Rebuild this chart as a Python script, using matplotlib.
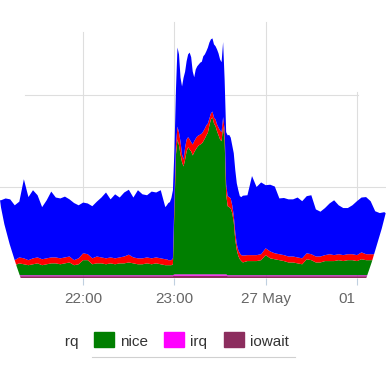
import matplotlib
matplotlib.use('Agg')
import matplotlib.pyplot as plt
import matplotlib.dates as mdates
from matplotlib.path import Path
from matplotlib.patches import Rectangle
from matplotlib.lines import Line2D
from matplotlib.transforms import Bbox, TransformedBbox
import pandas as pd

plt.rcParams['font.family'] = ['Liberation Sans', 'DejaVu Sans']

# Zeitpunkte in Minuten nach 21:00 (26. Mai)
minutes = [3, 6, 9, 12, 15, 18, 21, 24, 27, 30,
           33, 36, 39, 42, 45, 48, 51, 54, 57, 60,
           63, 66, 69, 72, 75, 78, 81, 84, 87, 90,
           93, 96, 99, 102, 105, 108, 111, 114,
           115, 116, 117, 118, 119, 120, 121, 122, 123, 124,
           125, 126, 127, 128, 129, 130, 131, 132, 133, 134,
           135, 136, 137, 138, 139, 140, 141, 142, 143, 144,
           145, 146, 147, 148, 149, 150, 151, 152, 153, 154,
           155, 156, 157, 158, 159, 160, 161, 162, 163, 164, 165,
           168, 171, 174, 177, 180, 183, 186, 189, 192, 195,
           198, 201, 204, 207, 210, 213, 216, 219, 222, 225,
           228, 231, 234, 237, 240, 243, 246, 249, 252, 255,
           258, 261]

# CPU-Anteile (Prozent), gestapelt
user = [12.7, 12.7, 13.3, 13.3, 12.0, 12.2, 17.3, 13.8, 14.9, 13.6,
        11.4, 12.7, 14.4, 13.1, 13.1, 13.3, 12.5, 12.5, 11.6, 11.1,
        11.1, 11.4, 12.0, 13.1, 14.4, 12.7, 14.0, 13.1, 14.0, 14.2,
        13.1, 14.9, 14.0, 13.6, 14.6, 14.2, 14.9, 11.4,
        11.8, 12.5, 12.7, 13.6, 14.9, 10.9, 12.0, 17.3, 17.1, 14.0,
        14.9, 17.9, 16.6, 17.1, 18.1, 19.0, 18.6, 16.0, 14.0, 15.1,
        15.3, 15.5, 15.7, 15.7, 16.4, 16.2, 16.2, 16.6, 16.6, 16.2,
        16.0, 16.0, 16.0, 16.4, 16.2, 15.5, 15.3, 16.4, 10.9, 11.4,
        13.3, 13.6, 13.3, 13.1, 13.6, 13.6, 13.3, 13.1, 12.5, 12.7, 13.1,
        13.1, 17.3, 14.9, 15.7, 13.8, 14.6, 14.6, 12.2, 12.5, 12.5,
        12.5, 13.1, 12.5, 12.5, 12.9, 10.3, 9.8, 10.3, 11.1, 12.0,
        10.7, 10.3, 10.1, 10.7, 11.8, 12.0, 12.5, 11.6, 9.4, 9.0,
        9.2, 8.5]
softirq = [1.3, 1.3, 1.3, 1.1, 1.1, 1.3, 1.3, 1.1, 1.3, 1.3,
           1.3, 1.3, 1.3, 1.3, 1.3, 1.3, 1.3, 1.1, 1.3, 1.5,
           1.3, 1.3, 1.5, 1.3, 1.3, 1.3, 1.3, 1.3, 1.5, 1.7,
           1.3, 1.3, 1.3, 1.3, 1.3, 1.3, 1.3, 1.3,
           1.3, 1.1, 1.1, 1.1, 1.3, 2.2, 2.2, 2.8, 2.8, 2.8,
           1.7, 1.5, 2.6, 2.6, 2.2, 2.2, 2.0, 2.4, 2.4, 2.4,
           2.4, 2.2, 2.2, 2.2, 2.2, 2.2, 2.2, 2.0, 1.5, 1.3,
           1.3, 1.3, 1.5, 1.5, 1.7, 2.0, 2.0, 2.0, 2.4, 2.2,
           2.2, 2.2, 2.2, 1.7, 1.5, 1.7, 1.3, 1.3, 1.3, 1.3, 1.5,
           1.3, 1.3, 1.3, 1.3, 1.5, 1.5, 1.3, 1.3, 1.3, 1.3,
           1.3, 1.3, 1.3, 1.3, 1.3, 1.3, 1.3, 1.3, 1.5, 1.3,
           1.3, 1.3, 1.3, 1.3, 1.3, 1.5, 1.3, 1.3, 1.3, 1.3,
           1.3, 1.3]
nice = [2.4, 2.4, 2.2, 2.2, 2.2, 2.6, 2.4, 2.2, 2.4, 2.6,
        2.2, 2.4, 2.6, 2.6, 2.4, 2.6, 2.8, 2.2, 2.4, 3.3,
        3.3, 2.4, 2.6, 2.6, 2.4, 2.6, 2.4, 2.6, 2.6, 2.8,
        2.6, 2.4, 2.4, 2.6, 2.4, 2.6, 2.4, 2.2,
        2.2, 2.2, 2.2, 2.2, 2.4, 14.2, 26.2, 29.5, 28.2, 26.2,
        24.5, 23.6, 25.1, 26.9, 27.8, 27.3, 26.9, 26.0, 26.7, 27.3,
        27.8, 28.2, 28.4, 28.6, 29.1, 29.7, 30.4, 31.0, 32.6, 33.9,
        34.3, 33.0, 32.4, 31.3, 30.4, 29.5, 29.1, 32.4, 29.3, 17.5,
        15.1, 14.9, 14.6, 13.6, 11.6, 7.7, 5.5, 4.2, 3.5, 3.1, 2.8,
        3.1, 3.1, 3.1, 3.3, 4.4, 3.7, 3.5, 3.3, 3.1, 2.8,
        2.8, 2.6, 2.4, 3.5, 3.3, 2.8, 2.8, 3.1, 3.1, 3.1,
        3.3, 3.1, 3.3, 3.3, 3.1, 3.5, 3.3, 3.3, 3.3, 3.3,
        3.3, 3.3]
irq = [0.2, 0.2, 0.2, 0.2, 0.2, 0.2, 0.2, 0.2, 0.2, 0.2,
       0.2, 0.2, 0.2, 0.2, 0.2, 0.2, 0.2, 0.2, 0.2, 0.2,
       0.2, 0.2, 0.2, 0.2, 0.2, 0.2, 0.2, 0.2, 0.2, 0.2,
       0.2, 0.2, 0.2, 0.2, 0.2, 0.2, 0.2, 0.2,
       0.2, 0.2, 0.2, 0.2, 0.2, 0.3, 0.3, 0.3, 0.3, 0.3,
       0.3, 0.3, 0.3, 0.3, 0.3, 0.3, 0.3, 0.3, 0.3, 0.3,
       0.3, 0.3, 0.3, 0.3, 0.3, 0.3, 0.3, 0.3, 0.3, 0.3,
       0.3, 0.3, 0.3, 0.3, 0.3, 0.3, 0.3, 0.3, 0.3, 0.3,
       0.2, 0.2, 0.2, 0.2, 0.2, 0.2, 0.2, 0.2, 0.2, 0.2, 0.2,
       0.2, 0.2, 0.2, 0.2, 0.2, 0.2, 0.2, 0.2, 0.2, 0.2,
       0.2, 0.2, 0.2, 0.2, 0.2, 0.2, 0.2, 0.2, 0.2, 0.2,
       0.2, 0.2, 0.2, 0.2, 0.2, 0.2, 0.2, 0.2, 0.2, 0.2,
       0.2, 0.2]
iowait = [0.4, 0.4, 0.4, 0.4, 0.4, 0.4, 0.4, 0.4, 0.4, 0.4,
          0.4, 0.4, 0.4, 0.4, 0.4, 0.4, 0.4, 0.4, 0.4, 0.4,
          0.4, 0.4, 0.4, 0.4, 0.4, 0.4, 0.4, 0.4, 0.4, 0.4,
          0.4, 0.4, 0.4, 0.4, 0.4, 0.4, 0.4, 0.4,
          0.4, 0.4, 0.4, 0.4, 0.4, 0.5, 0.5, 0.5, 0.5, 0.5,
          0.5, 0.5, 0.5, 0.5, 0.5, 0.5, 0.5, 0.5, 0.5, 0.5,
          0.5, 0.5, 0.5, 0.5, 0.5, 0.5, 0.5, 0.5, 0.5, 0.5,
          0.5, 0.5, 0.5, 0.5, 0.5, 0.5, 0.5, 0.5, 0.5, 0.5,
          0.4, 0.4, 0.4, 0.4, 0.4, 0.4, 0.4, 0.4, 0.4, 0.4, 0.4,
          0.4, 0.4, 0.4, 0.4, 0.4, 0.4, 0.4, 0.4, 0.4, 0.4,
          0.4, 0.4, 0.4, 0.4, 0.4, 0.4, 0.4, 0.4, 0.4, 0.4,
          0.4, 0.4, 0.4, 0.4, 0.4, 0.4, 0.4, 0.4, 0.4, 0.4,
          0.4, 0.4]

tick_labels = ['22:00', '23:00', '27 May', '01:00']
legend_labels = ['softirq', 'nice', 'irq', 'iowait']

farben = {'user': '#0000ff', 'softirq': '#ff0000', 'nice': '#007f00',
          'irq': '#ff00ff', 'iowait': '#8c2d5e'}

W = H = 386


def px(x, y):
    # Pixel (von oben links) -> Figurkoordinaten
    return (x / W, 1 - y / H)


start = pd.Timestamp('2015-05-26 21:00')
zeiten = start + pd.to_timedelta(minutes, unit='min')
xs = mdates.date2num(zeiten.to_pydatetime())

fig = plt.figure(figsize=(W / 100, H / 100), dpi=100)
ax = fig.add_axes([0, 1 - 278 / H, 1, 278 / H])

polys = ax.stackplot(xs, iowait, irq, nice, softirq, user,
                     colors=[farben['iowait'], farben['irq'], farben['nice'],
                             farben['softirq'], farben['user']],
                     linewidth=0, zorder=2)

# abgerundete Ecken unten links/rechts
verts = [px(0, -5), px(0, 200), px(3, 228), px(21, 279), px(366, 279),
         px(378, 245), px(386, 212), px(386, -5), px(0, -5)]
codes = [Path.MOVETO, Path.LINETO, Path.CURVE3, Path.CURVE3, Path.LINETO,
         Path.CURVE3, Path.CURVE3, Path.LINETO, Path.CLOSEPOLY]
clip = Path(verts, codes)
for p in polys:
    p.set_clip_path(clip, fig.transFigure)

x0 = mdates.date2num(start + pd.Timedelta(minutes=5.3))
x1 = mdates.date2num(start + pd.Timedelta(minutes=259.1))
ax.set_xlim(x0, x1)
ax.set_ylim(0, 60.8)

tick_pos = [mdates.date2num(start + pd.Timedelta(hours=h)) for h in [1, 2, 3, 4]]

# Gitterlinien
grid_col = '#dedede'
ax.axhline(20, color=grid_col, lw=0.8, zorder=0)
ax.axhline(40, xmin=25 / W, xmax=358 / W, color=grid_col, lw=0.8, zorder=0)
for pos, top in zip(tick_pos, [32, 22, 22, 92]):
    ax.axvline(pos, ymin=0, ymax=(278 - top) / 278, color=grid_col, lw=0.8, zorder=0)

ax.set_xticks(tick_pos)
ax.set_xticklabels(tick_labels)
ax.tick_params(axis='x', length=5, width=0.8, color='#c0d0e0', pad=5,
               labelsize=11, labelcolor='#666666')
ax.set_yticks([])
for s in ax.spines.values():
    s.set_visible(False)
ax.set_facecolor('none')

lbl = ax.get_xticklabels()[-1]
lbl.set_clip_box(TransformedBbox(Bbox([[0, 0], [356 / W, 1]]), fig.transFigure))
lbl.set_clip_on(True)

# Legende
box_x = [None, 94, 164, 224]
text_x = [79, 120, 190, 250]
box_col = [None, farben['nice'], farben['irq'], farben['iowait']]
for bx, tx, col, name in zip(box_x, text_x, box_col, legend_labels):
    if bx is not None:
        fig.patches.append(Rectangle(px(bx, 347), 20 / W, 15 / H, color=col,
                                     transform=fig.transFigure, figure=fig))
        fig.text(*px(tx, 346), name, fontsize=11, color='#333333', va='baseline')
    else:
        t = fig.text(*px(tx, 346), name, fontsize=11, color='#333333',
                     va='baseline', ha='right')
        t.set_clip_box(TransformedBbox(Bbox([[64 / W, 0], [1, 1]]), fig.transFigure))
        t.set_clip_on(True)

fig.lines.append(Line2D([92 / W, 295 / W], [1 - 357 / H, 1 - 357 / H],
                        color='#d0d0d0', lw=0.8, transform=fig.transFigure))

fig.savefig('out.png', dpi=100)
